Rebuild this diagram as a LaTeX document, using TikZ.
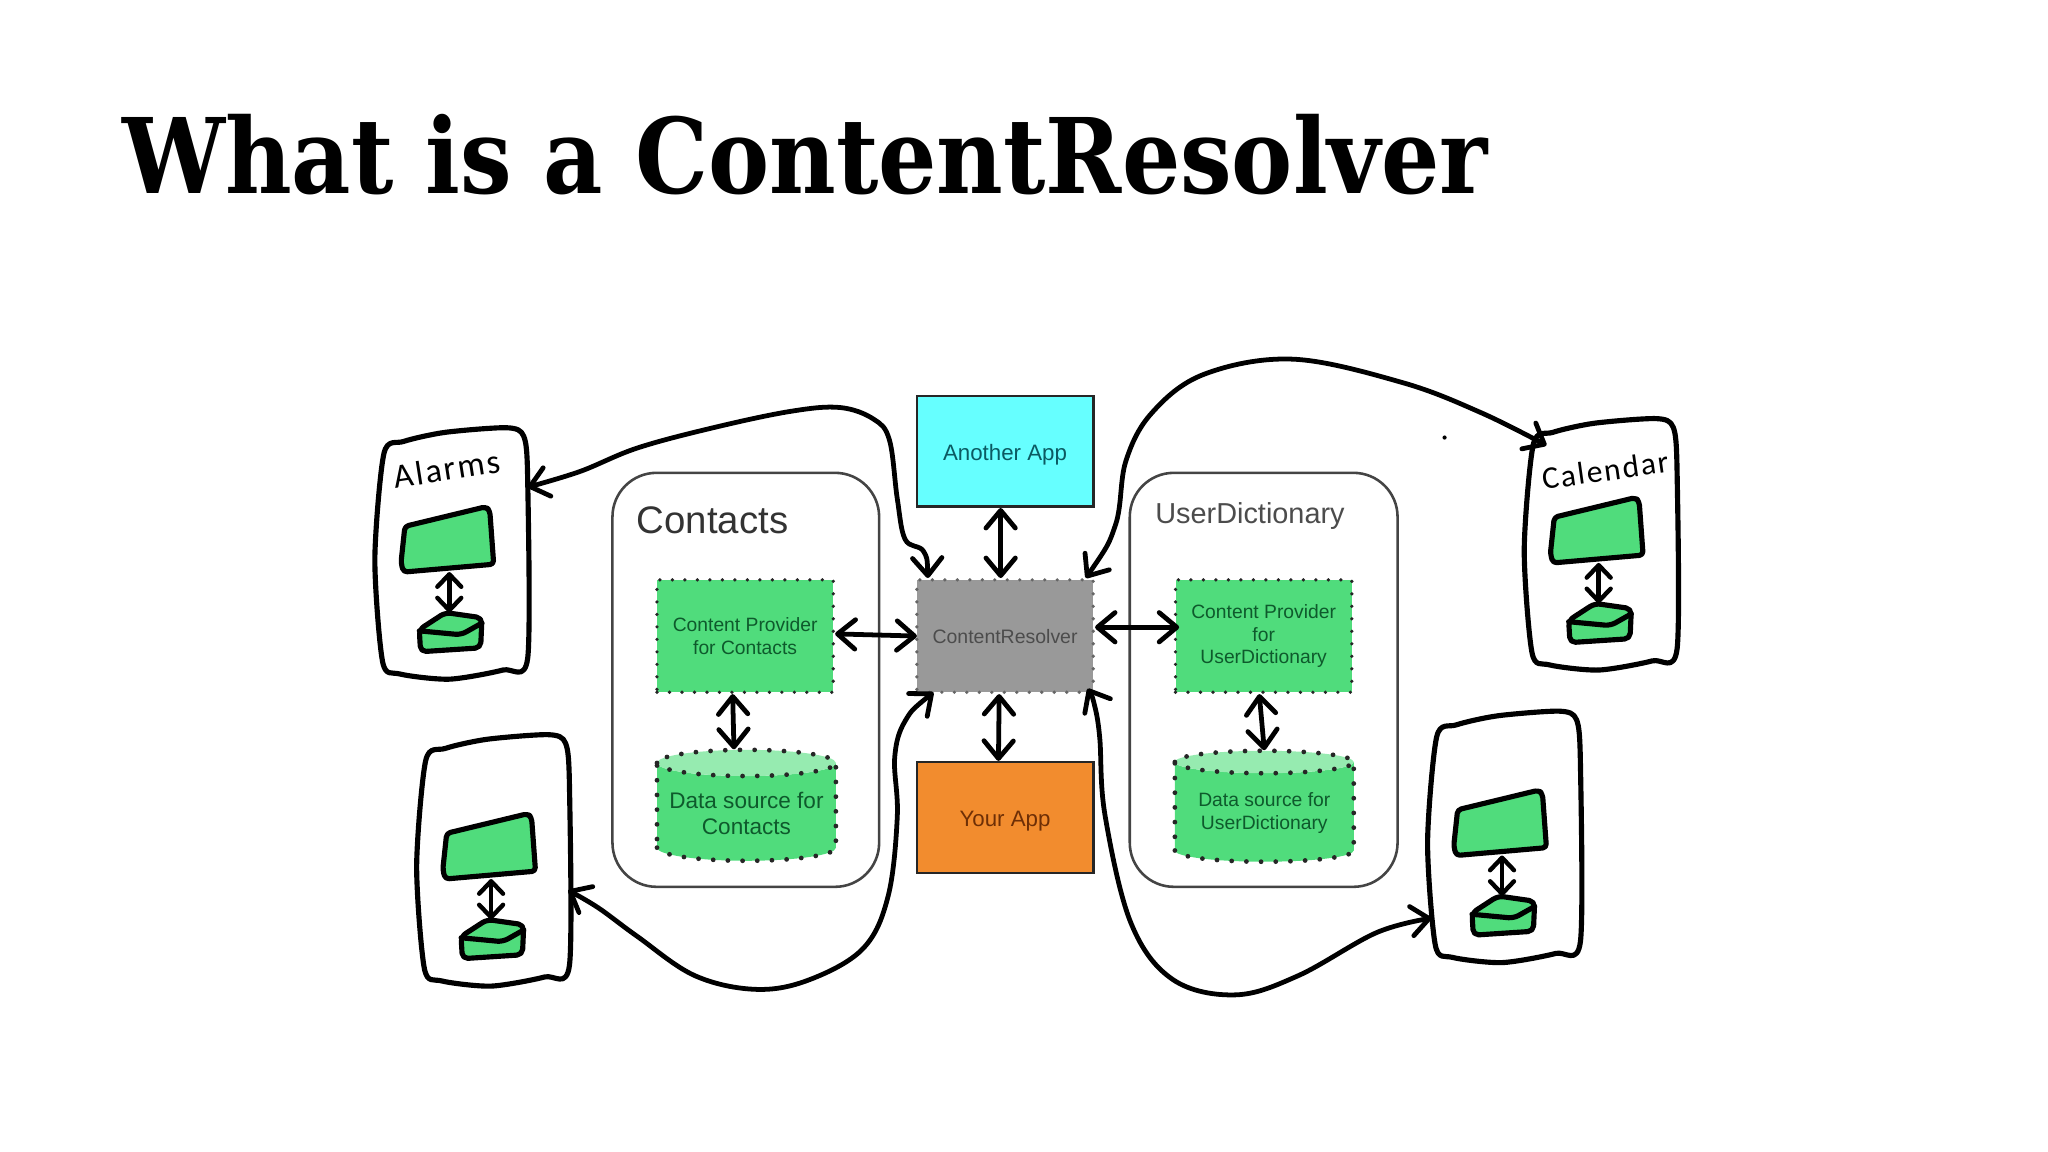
\documentclass[tikz,border=0pt]{standalone}
\usepackage{fontspec}
\setmainfont{Liberation Sans}
\newfontfamily\titlefont[FakeStretch=0.879]{DejaVu Serif}
\newfontfamily\handfont[LetterSpace=6]{Carlito}
\usetikzlibrary{arrows.meta,shapes.geometric}

\definecolor{provgreen}{HTML}{50DC7C}
\definecolor{provtop}{HTML}{96EBB0}
\definecolor{provtext}{HTML}{0E5A2C}
\definecolor{appcyan}{HTML}{66FFFF}
\definecolor{appcyantext}{HTML}{0B5A62}
\definecolor{apporange}{HTML}{F28C2E}
\definecolor{apporangetext}{HTML}{6E2F06}
\definecolor{resgrey}{HTML}{999999}
\definecolor{edgegrey}{HTML}{444444}

\tikzset{
  >={Straight Barb[length=4.8pt,width=8pt,round]},
  dotedge/.style={draw=black!85,line width=1pt,line cap=round,dash pattern=on 0pt off 3.4pt},
  appbox/.style={draw=black!85,line width=.7pt,inner sep=0pt,minimum width=48pt,minimum height=30.2pt,text height=4.8pt,text depth=0pt,font=\fontsize{6.07}{7.2}\selectfont},
  provbox/.style={dotedge,fill=provgreen,text=provtext,inner sep=0pt,minimum width=48pt,minimum height=30.6pt,align=center,font=\fontsize{5.25}{6.15}\selectfont},
  resbox/.style={dotedge,draw=black!60,fill=resgrey,text=black!70,inner sep=0pt,minimum width=48pt,minimum height=30.6pt,font=\fontsize{5.3}{6.1}\selectfont},
  datacyl/.style={cylinder,shape border rotate=90,shape aspect=.17,dotedge,line width=1.3pt,dash pattern=on 0pt off 4pt,cylinder uses custom fill,cylinder body fill=provgreen,cylinder end fill=provtop,text=provtext,inner sep=0pt,minimum width=48.7pt,minimum height=30.2pt,align=center},
  groupbox/.style={draw=edgegrey,line width=.7pt,rounded corners=12pt,inner sep=0pt,minimum height=112.7pt},
  link/.style={<->,line width=1.3pt,line cap=round},
  curve/.style={<->,line width=1.3pt,line cap=round},
  marker/.style={line width=1.4pt,line join=round,line cap=round},
  phone/.pic={
    \draw[marker,fill=white] plot[smooth cycle,tension=.45] coordinates {(-51,-73) (-36,-82) (-4,-89) (43,-92.5) (56,-86) (59,-53) (59,84) (40,93) (-1,100) (-39,96) (-52,87) (-58,8)};
    \draw[marker,fill=provgreen,rounded corners=1pt] (-35,-17) -- (27,-32) -- (30,-29) -- (33,12) -- (-36,18) -- (-38,11) -- cycle;
    \draw[marker,fill=provgreen,rounded corners=1.5pt] (-24,62) -- (-4,49) -- (24,53) -- (23,76) -- (-23,79) -- cycle;
    \draw[marker,rounded corners=1.5pt] (-24,63) -- (8,66) -- (24,57);
    \draw[marker,line width=1.2pt,{Straight Barb[length=3.4pt,width=6.5pt,round]}-{Straight Barb[length=3.4pt,width=6.5pt,round]}] (-1,18) -- (-1,49);
  },
}

\begin{document}
\begin{tikzpicture}[x=0.0125cm,y=-0.0125cm]
\useasboundingbox (0,0) rectangle (1568,882);

\node[anchor=base west,inner sep=0pt,font=\titlefont\bfseries\fontsize{28.4}{32}\selectfont] (title) at (93,148) {What is a ContentResolver};

% groups
\node[groupbox,minimum width=72.6pt] (contacts) at (571,520.5) {};
\node[groupbox,minimum width=72.9pt] (userdict) at (967.5,520.5) {};
\node[anchor=west,inner sep=0pt,text=black!80,font=\fontsize{10.45}{12}\selectfont] (contactslabel) at (487,398) {Contacts};
\node[anchor=west,inner sep=0pt,text=black!70,font=\fontsize{7.86}{9}\selectfont] (userdictlabel) at (884,395) {UserDictionary};

% apps
\node[appbox,fill=appcyan,text=appcyantext] (another) at (769.5,345.5) {Another App};
\node[resbox] (resolver) at (769.5,487) {ContentResolver};
\node[appbox,fill=apporange,text=apporangetext] (yourapp) at (769.5,626) {Your App};

% providers
\node[provbox] (cpcontacts) at (570.5,487) {Content Provider\\for Contacts};
\node[provbox] (cpuser) at (967.5,487) {Content Provider\\for\\UserDictionary};
\node[datacyl,font=\fontsize{6.14}{7.1}\selectfont] (dscontacts) at (571.5,622.5) {Data source for\\Contacts};
\node[datacyl,font=\fontsize{5.26}{6.4}\selectfont] (dsuser) at (968,622.5) {Data source for\\UserDictionary};

\draw[link] ([xshift=-1.2pt]another.south) -- ([xshift=-1.2pt]resolver.north);
\draw[link] ([xshift=-1.6pt]resolver.south) -- ([xshift=-1.8pt]yourapp.north);
\draw[link] ([yshift=.6pt]cpcontacts.east) -- ([xshift=.5pt]resolver.west);
\draw[link] ([yshift=2.4pt]resolver.east) -- ([xshift=1.5pt,yshift=2.4pt]cpuser.west);
\draw[link] ([xshift=-3.4pt]cpcontacts.south) -- ([xshift=-3.4pt,yshift=-.5pt]dscontacts.north);
\draw[link] ([xshift=-1.2pt]cpuser.south) -- ([yshift=-.5pt]dsuser.north);

% phones
\pic at (345,420) {phone};
\pic at (377,655) {phone};
\pic at (1225,413) {phone};
\pic at (1151,637) {phone};
\node[rotate=9,inner sep=0pt,font=\handfont\fontsize{9.3}{12}\selectfont] (alarms) at (342,359) {Alarms};
\node[rotate=8,inner sep=0pt,font=\handfont\fontsize{8.6}{12}\selectfont] (calendar) at (1229,360) {Calendar};

\coordinate (alarmsport) at (404,373);
\coordinate (lowerleftport) at (435,681.6);
\coordinate (calendarport) at (1184,341);
\coordinate (lowerrightport) at (1096,703);
\coordinate (resnw) at ([xshift=3.5pt]resolver.north west);
\coordinate (resne) at ([xshift=-2.5pt]resolver.north east);
\coordinate (ressw) at ([xshift=5pt,yshift=.5pt]resolver.south west);
\coordinate (resse) at ([xshift=-2pt,yshift=1.5pt]resolver.south east);

\draw[curve] plot[smooth,tension=.6] coordinates {(resnw) (707,422) (693,413) (687,382) (681,337) (669,321) (643,312) (605,315) (546,327.5) (488,343) (444,361) (alarmsport)};
\draw[curve] plot[smooth,tension=.6] coordinates {(ressw) (693,552) (685,580) (687,625) (680,686) (661,726) (620,750) (579,757.5) (532,747) (488,717) (458,695) (lowerleftport)};
\draw[curve] plot[smooth,tension=.6] coordinates {(resne) (854,402) (862,353) (882,316) (922,286.5) (990,275) (1074,293) (1134,316) (calendarport)};
\draw[curve] plot[smooth,tension=.6] coordinates {(resse) (838,540) (842,565) (846,624) (866,707) (898,750) (946,761.7) (994,747) (1054,714) (lowerrightport)};

\fill (1106,335) circle (1.6);
\end{tikzpicture}
\end{document}
